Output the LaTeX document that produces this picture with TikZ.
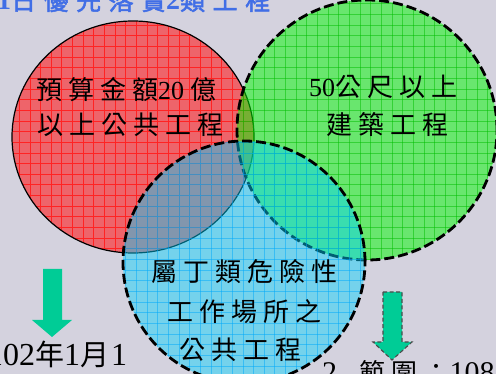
\documentclass[tikz,border=0pt]{standalone}
\usepackage{fontspec}
\setmainfont{Liberation Serif}
\newfontfamily\cjk[LetterSpace=23]{Noto Sans CJK TC}
\newfontfamily\cjkn{Noto Sans CJK TC}
\newfontfamily\cjkt[LetterSpace=30,FakeBold=2]{Noto Sans CJK TC}
\definecolor{bgc}{RGB}{212,210,222}
\definecolor{redfill}{RGB}{238,100,106}
\definecolor{redgrid}{RGB}{255,35,35}
\definecolor{greenfill}{RGB}{0,250,0}
\definecolor{greengrid}{RGB}{0,190,0}
\definecolor{bluefill}{RGB}{0,211,255}
\definecolor{bluegrid}{RGB}{0,170,250}
\definecolor{arrowc}{RGB}{0,204,150}
\definecolor{titleblue}{RGB}{65,110,230}
\begin{document}
\begin{tikzpicture}[x=1pt,y=-1pt,
  txt/.style={inner sep=0pt, anchor=base west, font=\fontsize{26}{30}\selectfont},
  gridln/.style={line width=0.9pt},
  dashb/.style={draw=black, line width=2.8pt, dash pattern=on 10pt off 4pt},
  blockarrow/.style={fill=arrowc},
]
\useasboundingbox (0,0) rectangle (496,374);
\clip (0,0) rectangle (496,374);
\fill[bgc] (0,0) rectangle (496,374);

\coordinate (rc) at (133,137);
\coordinate (gc) at (367,130);
\coordinate (bc) at (244,262);

% red
\begin{scope}
\clip (rc) ellipse [x radius=121pt, y radius=116pt];
\fill[redfill] (0,0) rectangle (496,374);
\foreach \k in {0,...,47} \draw[redgrid, gridln] ({-2+10.65*\k},0) -- ({-2+10.65*\k},374);
\foreach \k in {0,...,35} \draw[redgrid, gridln] (0,{3.9+10.65*\k}) -- (496,{3.9+10.65*\k});
\end{scope}
\draw[black, line width=1.2pt] (rc) ellipse [x radius=121pt, y radius=116pt];

% green
\begin{scope}
\clip (gc) circle (130pt);
\fill[greenfill, opacity=0.5] (0,0) rectangle (496,374);
\foreach \k in {0,...,47} \draw[greengrid, gridln, opacity=0.5] ({-2+10.65*\k},0) -- ({-2+10.65*\k},374);
\foreach \k in {0,...,35} \draw[greengrid, gridln, opacity=0.5] (0,{3.9+10.65*\k}) -- (496,{3.9+10.65*\k});
\end{scope}
\draw[dashb] (gc) circle (130pt);

% blue
\begin{scope}
\clip (bc) circle (121pt);
\fill[bluefill, opacity=0.45] (0,0) rectangle (496,374);
\foreach \k in {0,...,47} \draw[bluegrid, gridln, opacity=0.5] ({-2+10.65*\k},0) -- ({-2+10.65*\k},374);
\foreach \k in {0,...,35} \draw[bluegrid, gridln, opacity=0.5] (0,{3.9+10.65*\k}) -- (496,{3.9+10.65*\k});
\end{scope}
\draw[dashb] (bc) circle (121pt);

% arrows
\fill[blockarrow] (43,269) -- (62,269) -- (62,320) -- (72,320) -- (52,337) -- (32,320) -- (43,320) -- cycle;
\fill[blockarrow] (383,292) -- (402,292) -- (402,342) -- (412,342) -- (392,360) -- (373,342) -- (383,342) -- cycle;
\draw[draw=black!70, line width=1.1pt, dash pattern=on 4pt off 2.5pt] (383,292) -- (402,292) -- (402,342) -- (412,342) -- (392,360) -- (373,342) -- (383,342) -- cycle;

% texts
\node[txt] (r1) at (36,99.5) {{\cjk 預算金額}20\hspace{6pt}{\cjk 億}};
\node[txt] (r2) at (37,134.5) {\cjk 以上公共工程};
\node[txt] (g1) at (309,96.5) {50{\cjk 公尺以上}};
\node[txt] (g2) at (326,134.5) {\cjk 建築工程};
\node[txt] (b1) at (151,281.5) {\cjk 屬丁類危險性};
\node[txt] (b2) at (167,321.5) {\cjk 工作場所之};
\node[txt] (b3) at (179,359.5) {\cjk 公共工程};

\node[inner sep=0pt, anchor=base west, text=titleblue, font=\fontsize{25}{30}\selectfont] (title) at (-3,10)
  {{\fontsize{28}{30}\selectfont\bfseries 1}{\cjkt 日優先落實}{\fontsize{28}{30}\selectfont\bfseries 2}{\cjkt 類工程}};

\node[inner sep=0pt, anchor=base west, font=\fontsize{32}{36}\selectfont] (date) at (-13,366)
  {102{\fontsize{29}{30}\selectfont\cjk 年}1{\fontsize{29}{30}\selectfont\cjkn 月}\hspace{2pt}1};

\node[inner sep=0pt, anchor=base west, font=\fontsize{30}{36}\selectfont] (scope) at (322,382.5)
  {2.\hspace{15pt}{\fontsize{26}{30}\selectfont\cjk 範圍：}108};
\end{tikzpicture}
\end{document}
